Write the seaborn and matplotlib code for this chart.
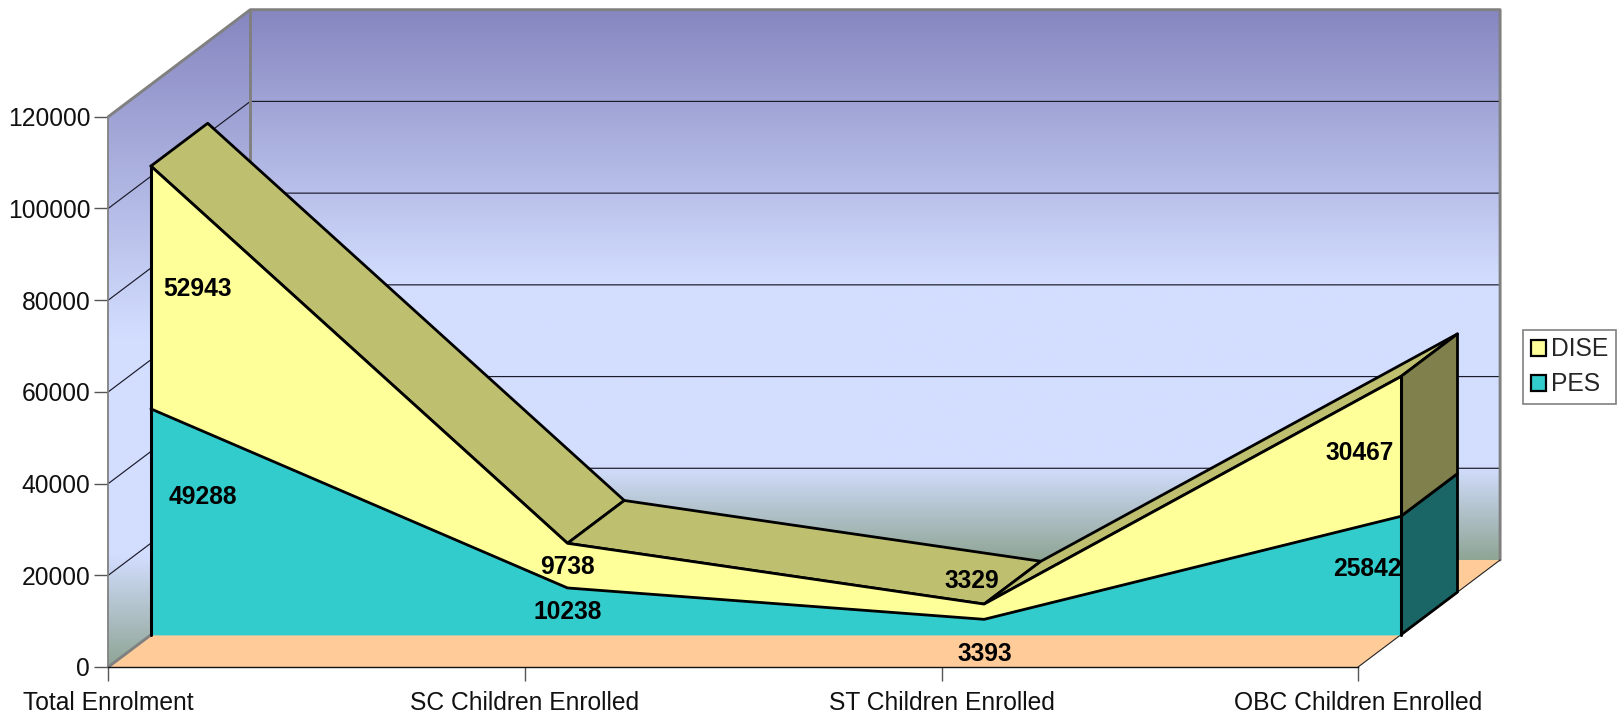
import numpy as np
import pandas as pd
import matplotlib

matplotlib.use("Agg")
import matplotlib.pyplot as plt
import seaborn as sns
from matplotlib.colors import LinearSegmentedColormap
from matplotlib.patches import Patch, Polygon

categories = [
    "Total Enrolment",
    "SC Children Enrolled",
    "ST Children Enrolled",
    "OBC Children Enrolled",
]
pes_values = [49288, 10238, 3393, 25842]
dise_values = [52943, 9738, 3329, 30467]
y_ticks = [0, 20000, 40000, 60000, 80000, 100000, 120000]

# label offsets in pixels from the foot of each category on the front face
pes_offsets = [(52, 138), (0, 23), (1, -19), (-33, 66)]
dise_offsets = [(47, 346), (0, 68), (-12, 54), (-41, 182)]

W, H = 1617, 718
PX_X = 416.6  # pixels per category
PX_Y = 550.3 / 120000  # pixels per enrolled child
ORIGIN_X, ORIGIN_Y = 108.3, 667
DEPTH_X = 142 / PX_X  # full chart depth, in data units
DEPTH_Y = 107 / PX_Y
FRONT, BACK = 0.30, 0.70  # where the area series sits in the depth
FONT = 17.7

sns.set_theme(style="white")
plt.rcParams["font.family"] = ["Liberation Sans", "DejaVu Sans"]


def project(cat, value, depth):
    return cat + depth * DEPTH_X, value + depth * DEPTH_Y


fig = plt.figure(figsize=(W / 100, H / 100), dpi=100)
ax = fig.add_axes([0, 0, 1, 1])
ax.set_xlim(-ORIGIN_X / PX_X, (W - ORIGIN_X) / PX_X)
ax.set_ylim(-(H - ORIGIN_Y) / PX_Y, ORIGIN_Y / PX_Y)
xlim, ylim = ax.get_xlim(), ax.get_ylim()

n = len(categories)
last = n - 1
top = y_ticks[-1]
pes = np.array(pes_values)
total = pes + np.array(dise_values)

# walls
wall_cmap = LinearSegmentedColormap.from_list(
    "wall",
    [(0, "#8686C0"), (0.5, "#D3DEFF"), (0.83, "#D3DEFF"), (1, "#8FA595")],
)
gradient = np.linspace(0, 1, 256).reshape(-1, 1)
back_wall = [project(0, 0, 1), project(last, 0, 1), project(last, top, 1), project(0, top, 1)]
left_wall = [project(0, 0, 0), project(0, 0, 1), project(0, top, 1), project(0, top, 0)]
for corners in (back_wall, left_wall):
    xs, ys = zip(*corners)
    im = ax.imshow(
        gradient,
        cmap=wall_cmap,
        aspect="auto",
        extent=(min(xs), max(xs), min(ys), max(ys)),
        zorder=1,
    )
    im.set_clip_path(Polygon(corners, transform=ax.transData))
ax.set_xlim(xlim)
ax.set_ylim(ylim)

# floor
floor = [project(0, 0, 0), project(last, 0, 0), project(last, 0, 1), project(0, 0, 1)]
ax.fill(*zip(*floor), color="#FFCC99", lw=0, zorder=1.1)

# gridlines run over the left wall and along the back wall
for v in y_ticks[1:-1]:
    line = [project(0, v, 0), project(0, v, 1), project(last, v, 1)]
    ax.plot(*zip(*line), color="#1A1A2A", lw=0.85, zorder=1.2)

# wall frame
frame_style = dict(color="#808080", lw=2.1, zorder=1.3)
ax.plot(*zip(project(0, top, 0), project(0, top, 1), project(last, top, 1), project(last, 0, 1)), **frame_style)
ax.plot(*zip(project(0, 0, 1), project(0, top, 1)), **frame_style)
ax.plot(*zip(project(0, 0, 0), project(0, 0, 1)), **frame_style)
ax.plot(*zip(project(last, 0, 0), project(last, 0, 1)), color="#222222", lw=0.8, zorder=1.3)

# top surface of DISE, drawn right to left as it recedes
edge = dict(edgecolor="black", lw=2.0, joinstyle="round")
for i in range(last):
    face = [
        project(i, total[i], FRONT),
        project(i + 1, total[i + 1], FRONT),
        project(i + 1, total[i + 1], BACK),
        project(i, total[i], BACK),
    ]
    ax.add_patch(Polygon(face, facecolor="#BFBF70", zorder=3, **edge))

# right side faces
side_pes = [
    project(last, 0, FRONT),
    project(last, 0, BACK),
    project(last, pes[last], BACK),
    project(last, pes[last], FRONT),
]
side_dise = [
    project(last, pes[last], FRONT),
    project(last, pes[last], BACK),
    project(last, total[last], BACK),
    project(last, total[last], FRONT),
]
ax.add_patch(Polygon(side_pes, facecolor="#1A6666", zorder=3.1, **edge))
ax.add_patch(Polygon(side_dise, facecolor="#80804C", zorder=3.1, **edge))

# front faces
cats = np.arange(n)
front_x = cats + FRONT * DEPTH_X
base_y = FRONT * DEPTH_Y
ax.fill_between(front_x, base_y, pes + base_y, color="#33CCCC", lw=0, zorder=3.2)
ax.fill_between(front_x, pes + base_y, total + base_y, color="#FFFF99", lw=0, zorder=3.2)

outlines = pd.DataFrame(
    {
        "x": np.tile(front_x, 2),
        "y": np.concatenate([pes + base_y, total + base_y]),
        "series": ["PES"] * n + ["DISE"] * n,
    }
)
sns.lineplot(
    data=outlines,
    x="x",
    y="y",
    units="series",
    estimator=None,
    sort=False,
    color="black",
    lw=2.0,
    legend=False,
    ax=ax,
    zorder=3.3,
)
ax.plot(*zip(project(0, 0, FRONT), project(0, total[0], FRONT)), color="black", lw=2.2, zorder=3.4)
ax.plot(*zip(project(last, 0, FRONT), project(last, total[last], FRONT)), color="black", lw=2.2, zorder=3.4)

# value labels
for i in range(n):
    for value, offset in ((pes_values[i], pes_offsets[i]), (dise_values[i], dise_offsets[i])):
        ax.annotate(
            str(value),
            project(i, 0, FRONT),
            xytext=offset,
            textcoords="offset pixels",
            ha="center",
            va="center",
            fontsize=FONT,
            fontweight="bold",
            color="black",
            zorder=4,
        )

# real axes, moved onto the front corner of the floor
for name in ("top", "right"):
    ax.spines[name].set_visible(False)
ax.spines["left"].set_position(("data", 0))
ax.spines["left"].set_bounds(0, top)
ax.spines["left"].set_color("#808080")
ax.spines["left"].set_linewidth(1.3)
ax.spines["bottom"].set_position(("data", 0))
ax.spines["bottom"].set_bounds(0, last)
ax.spines["bottom"].set_color("#111111")
ax.spines["bottom"].set_linewidth(1.0)
ax.set_yticks(y_ticks)
ax.set_xticks(cats)
ax.set_xticklabels(categories)
ax.tick_params(axis="y", direction="out", left=True, length=10, width=1.0, color="#555555",
               labelsize=FONT, labelcolor="#111111", pad=3)
ax.tick_params(axis="x", direction="out", bottom=True, length=10, width=1.0, color="#555555",
               labelsize=FONT, labelcolor="#111111", pad=7.5)
ax.set_xlabel("")
ax.set_ylabel("")

# legend
handles = [
    Patch(facecolor="#FFFF99", edgecolor="black", lw=1.6, label="DISE"),
    Patch(facecolor="#33CCCC", edgecolor="black", lw=1.6, label="PES"),
]
legend = ax.legend(
    handles=handles,
    loc="upper right",
    bbox_to_anchor=(1616 / W, 1 - 330 / H),
    borderaxespad=0,
    fontsize=FONT,
    fancybox=False,
    framealpha=1,
    edgecolor="#808080",
    handlelength=0.62,
    handleheight=0.62,
    handletextpad=0.22,
    borderpad=0.3,
    labelspacing=0.45,
)
legend.get_frame().set_linewidth(1.2)

fig.savefig("out.png", dpi=100)
